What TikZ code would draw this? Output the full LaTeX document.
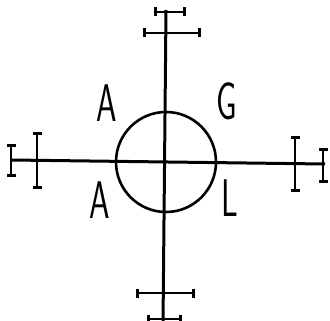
\documentclass[tikz,border=0pt]{standalone}
\usepackage{tikz}

\tikzset{
  axisline/.style={line width=3pt},
  crossbar/.style={line width=2.8pt},
  capline/.style={line width=3pt},
  letter/.style={font=\sffamily\fontsize{53}{53}\selectfont, inner sep=0pt, xscale=0.62}
}
% horizontal bar with small end caps: {x1}{x2}{y}
\newcommand{\hcross}[3]{
  \draw[crossbar] (#1,#3) -- (#2,#3);
  \draw[capline] (#1,#3-4.5) -- (#1,#3+4.5);
  \draw[capline] (#2,#3-4.5) -- (#2,#3+4.5);
}
% vertical bar with small end caps: {x}{y1}{y2}
\newcommand{\vcross}[3]{
  \draw[crossbar] (#1,#2) -- (#1,#3);
  \draw[capline] (#1-4.5,#2) -- (#1+4.5,#2);
  \draw[capline] (#1-4.5,#3) -- (#1+4.5,#3);
}

\begin{document}
\begin{tikzpicture}[x=1pt,y=-1pt]
  \useasboundingbox (0,0) rectangle (330,321);
  \clip (0,0) rectangle (330,321);
  \coordinate (c) at (166,162);
  \coordinate (top) at (166,10);
  \coordinate (bot) at (163,325);
  \coordinate (left) at (11,160);
  \coordinate (right) at (325,164);
  \draw[axisline] (top) -- (bot);
  \draw[axisline] (left) -- (right);
  \draw[line width=2.6pt] (c) circle (50);
  % bars
  \hcross{155}{184}{12}
  \hcross{144}{199}{33}
  \hcross{137}{193}{293}
  \hcross{148}{180}{319}
  \vcross{11}{146}{176}
  \vcross{37}{134}{188}
  \vcross{295}{138}{191}
  \vcross{323}{150}{182}
  % letters
  \node[letter] (a1) at (107,103) {A};
  \node[letter] (g) at (227,101) {G};
  \node[letter] (a2) at (100,200) {A};
  \node[letter] (l) at (230,198) {L};
\end{tikzpicture}
\end{document}
